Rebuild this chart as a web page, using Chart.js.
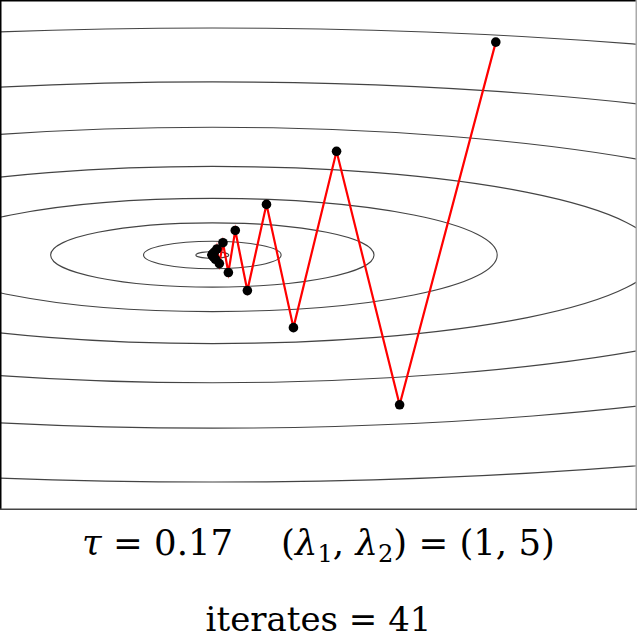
<!DOCTYPE html>
<html>
<head>
<meta charset="utf-8">
<script src="https://cdn.jsdelivr.net/npm/chart.js@4.4.1/dist/chart.umd.min.js"></script>
<style>
  html, body { margin: 0; padding: 0; background: #fff; }
  #wrap { position: relative; width: 637px; height: 635px; overflow: hidden; }
  #plot { position: absolute; left: 0; top: 0; }
  .caption {
    position: absolute; left: 0; width: 637px; text-align: center;
    font-family: 'DejaVu Serif', serif; color: #000;
    white-space: nowrap; line-height: 1;
  }
  .caption i { font-style: italic; }
  .caption sub { font-size: 0.68em; vertical-align: -0.28em; line-height: 0; }
  #line1 { top: 525px; font-size: 35.5px; }
  #line2 { top: 602px; font-size: 34px; }
  .quad { display: inline-block; width: 48px; }
</style>
</head>
<body>
<div id="wrap">
  <canvas id="plot" width="637" height="510"></canvas>
  <div class="caption" id="line1"></div>
  <div class="caption" id="line2"></div>
</div>
<script>
// step size and eigenvalues of the quadratic
const tau = 0.17;
const lambdas = [1, 5];
const nIterates = 41;

// gradient descent iterates (data units)
const iterX = [1.335, 0.882, 0.585, 0.382, 0.255, 0.165, 0.108, 0.0755, 0.050, 0.033,
  0.022, 0.0145, 0.0095, 0.0063, 0.0042, 0.0028, 0.0018, 0.0012, 0.0008, 0.0005, 0.0003, 0.0002, 0.0001, 0];
const iterY = [2.254, -1.586, 1.098, -0.769, 0.536, -0.377, 0.260, -0.186, 0.130, -0.091,
  0.064, -0.045, 0.031, -0.022, 0.015, -0.011, 0.008, -0.005, 0.004, -0.003, 0.002, -0.001, 0.001, 0];

// contour levels of f(x, y) = l1 x^2 + l2 y^2
const contourLevels = [0.006, 0.105, 0.58, 1.8, 4.4, 9.15, 16.8, 28.9];

// visible window
const xLimits = [-1, 2];
const yLimits = [-2.7, 2.7];

document.getElementById('line1').innerHTML =
  `<i>τ</i> = ${tau.toFixed(2)}<span class="quad"></span>` +
  `(<i>λ</i><sub>1</sub>, <i>λ</i><sub>2</sub>) = (${lambdas[0]}, ${lambdas[1]})`;
document.getElementById('line2').textContent = `iterates = ${nIterates}`;

const contourPlugin = {
  id: 'contours',
  beforeDatasetsDraw(chart) {
    const { ctx, chartArea, scales } = chart;
    const xs = scales.x, ys = scales.y;
    const cx = xs.getPixelForValue(0);
    const cy = ys.getPixelForValue(0);
    ctx.save();
    ctx.beginPath();
    ctx.rect(chartArea.left, chartArea.top, chartArea.right - chartArea.left, chartArea.bottom - chartArea.top);
    ctx.clip();
    ctx.strokeStyle = '#444';
    ctx.lineWidth = 1.1;
    contourLevels.forEach(c => {
      const rx = xs.getPixelForValue(Math.sqrt(c / lambdas[0])) - cx;
      const ry = cy - ys.getPixelForValue(Math.sqrt(c / lambdas[1]));
      ctx.beginPath();
      ctx.ellipse(cx, cy, rx, ry, 0, 0, 2 * Math.PI);
      ctx.stroke();
    });
    ctx.restore();
  }
};

const framePlugin = {
  id: 'frame',
  afterDraw(chart) {
    const { ctx, chartArea: a } = chart;
    ctx.save();
    ctx.lineWidth = 1.5;
    ctx.strokeStyle = '#000';
    ctx.beginPath();
    ctx.moveTo(a.left + 0.75, a.bottom);
    ctx.lineTo(a.left + 0.75, a.top + 0.75);
    ctx.lineTo(a.right, a.top + 0.75);
    ctx.stroke();
    ctx.strokeStyle = '#aaa';
    ctx.beginPath();
    ctx.moveTo(a.right - 0.75, a.top);
    ctx.lineTo(a.right - 0.75, a.bottom);
    ctx.stroke();
    ctx.strokeStyle = '#444';
    ctx.beginPath();
    ctx.moveTo(a.left, a.bottom - 0.75);
    ctx.lineTo(a.right, a.bottom - 0.75);
    ctx.stroke();
    ctx.restore();
  }
};

new Chart(document.getElementById('plot'), {
  type: 'line',
  data: {
    datasets: [{
      data: iterX.map((x, i) => ({ x, y: iterY[i] })),
      borderColor: '#ff0000',
      borderWidth: 2.2,
      pointRadius: 4.8,
      pointBackgroundColor: '#000',
      pointBorderColor: '#000',
      pointBorderWidth: 0,
      tension: 0,
      fill: false
    }]
  },
  options: {
    responsive: false,
    animation: false,
    layout: { padding: 0, autoPadding: false },
    scales: {
      x: { type: 'linear', min: xLimits[0], max: xLimits[1], display: false },
      y: { type: 'linear', min: yLimits[0], max: yLimits[1], display: false }
    },
    plugins: { legend: { display: false }, tooltip: { enabled: false } }
  },
  plugins: [contourPlugin, framePlugin]
});
</script>
</body>
</html>
